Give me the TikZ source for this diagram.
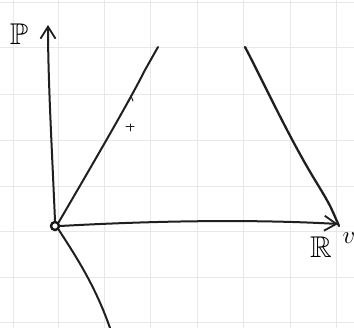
\documentclass[tikz,border=0pt]{standalone}
\usepackage{amssymb}
\usetikzlibrary{arrows.meta}
\begin{document}
\begin{tikzpicture}[x=1pt,y=-1pt,
  gridline/.style={draw=black!9,line width=1pt},
  ink/.style={draw=black!88,line width=2pt,line cap=round,line join=round},
  axis/.style={ink,-{Straight Barb[length=12pt,width=15pt,line width=1.8pt]}},
  lbl/.style={inner sep=0pt,font=\fontsize{30}{30}\selectfont}]
\useasboundingbox (0,0) rectangle (354,328);
\fill[white] (0,0) rectangle (354,328);
\foreach \gx in {13,58,104,150,197,243,290,336} \draw[gridline] (\gx,0) -- (\gx,328);
\foreach \gy in {3,48,95,141,187,232,278,323} \draw[gridline] (0,\gy) -- (354,\gy);
% nodes
\node[circle,draw=black!90,line width=2.4pt,inner sep=0pt,minimum size=8pt] (O) at (55,226) {};
\coordinate (Ptip) at (48,25);
\coordinate (Rtip) at (338,224);
\coordinate (A) at (158,47);
\coordinate (B) at (245,47);
\coordinate (C) at (339,226);
\coordinate (D) at (110,328);
% axes
\draw[axis] (O.north) .. controls (52,150) and (48,80) .. (Ptip);
\draw[axis] (O.east) .. controls (150,221) and (250,219) .. (Rtip);
% lines
\draw[ink] (O.north east) .. controls (95,160) and (130,100) .. (145,70) -- (A);
\draw[ink,line width=2.3pt] (B) .. controls (265,85) and (290,140) .. (318,185) .. controls (330,205) .. (C);
\draw[ink] (O.south east) .. controls (75,255) and (95,285) .. (D);
% small marks
\draw[ink,line width=1pt] (129,101) -- (131,96) -- (133,101);
\draw[ink,line width=1pt] (126,127) -- (134,127) (130,124) -- (130,131);
% labels
\node[lbl] (Plbl) at (19,34) {$\mathbb{P}$};
\node[lbl] (Rlbl) at (321,247) {$\mathbb{R}$};
\node[lbl,font=\fontsize{26}{26}\selectfont] (Vlbl) at (349,238) {$v$};
\end{tikzpicture}
\end{document}
